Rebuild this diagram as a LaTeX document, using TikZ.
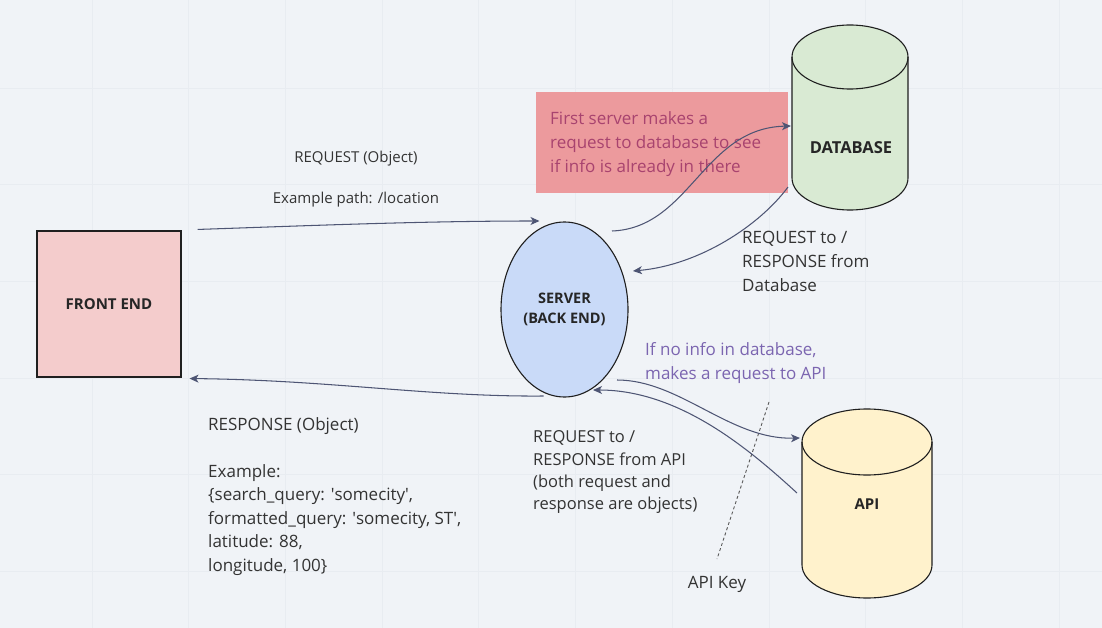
\documentclass[tikz,border=0pt]{standalone}
\usepackage{fontspec}
\setmainfont{Open Sans}
\usetikzlibrary{arrows.meta,calc,shapes.geometric}
\definecolor{bg}{HTML}{F0F3F7}
\definecolor{gridc}{HTML}{E8ECF1}
\definecolor{fefill}{HTML}{F4CCCC}
\definecolor{srvfill}{HTML}{C9DAF8}
\definecolor{dbfill}{HTML}{D9EAD3}
\definecolor{apifill}{HTML}{FFF2CC}
\definecolor{notefill}{HTML}{EC9A9D}
\definecolor{notetext}{HTML}{A8436F}
\definecolor{purp}{HTML}{7B65B0}
\definecolor{arrc}{HTML}{4E5574}
\definecolor{txt}{HTML}{333333}
\definecolor{outl}{HTML}{1F1F1F}
\tikzset{
  conn/.style={draw=arrc, line width=1.05pt, -{Stealth[length=9pt,width=8pt,inset=2.5pt]}},
  lbl/.style={text=txt, inner sep=0pt, align=left, font=\fontsize{17}{23.5}\selectfont},
  boldlbl/.style={text=black!85, font=\bfseries\fontsize{15}{20}\selectfont, align=center},
  shapeline/.style={draw=outl, line width=1.1pt},
  hidden/.style={inner sep=0pt, outer sep=0pt}
}
\begin{document}
\begin{tikzpicture}[x=1pt,y=-1pt]
\useasboundingbox (0,0) rectangle (1102,628);
\fill[bg] (0,0) rectangle (1102,628);
\foreach \i in {0,...,10} \draw[gridc, line width=0.8pt] ({92+96.7*\i},0) -- ++(0,628);
\foreach \i in {0,...,5} \draw[gridc, line width=0.8pt] (0,{88+96.7*\i}) -- ++(1102,0);

% note
\node[hidden, fill=notefill, minimum width=252pt, minimum height=101pt] (note) at (662,142.5) {};
\node[inner sep=0pt, anchor=north west, align=left, text=notetext, font=\fontsize{17}{24}\selectfont] (notetxt) at (550,111)
  {First server makes a\\request to database to see\\if info is already in there};

% front end
\node[shapeline, fill=fefill, minimum width=144pt, minimum height=146pt, boldlbl] (fe) at (109,304) {FRONT END};

% server
\node[ellipse, shapeline, fill=srvfill, minimum width=127pt, minimum height=175pt, inner sep=0pt, boldlbl, font=\bfseries\fontsize{14.5}{20}\selectfont] (srv) at (564.5,309.5) {SERVER\\(BACK END)};

% database cylinder
\filldraw[shapeline, fill=dbfill] (792,57) -- (792,178) arc[start angle=180,end angle=360,x radius=58pt,y radius=32pt] -- (908,57) arc[start angle=0,end angle=180,x radius=58pt,y radius=32pt] -- cycle;
\draw[shapeline] (792,57) arc[start angle=180,end angle=360,x radius=58pt,y radius=32pt];
\node[hidden, minimum width=116pt, minimum height=185pt] (db) at (850,117.5) {};
\node[boldlbl, font=\bfseries\fontsize{16.5}{20}\selectfont] (dbtxt) at (851,148) {DATABASE};

% api cylinder
\filldraw[shapeline, fill=apifill] (802,442) -- (802,565) arc[start angle=180,end angle=360,x radius=65pt,y radius=33pt] -- (932,442) arc[start angle=0,end angle=180,x radius=65pt,y radius=33pt] -- cycle;
\draw[shapeline] (802,442) arc[start angle=180,end angle=360,x radius=65pt,y radius=33pt];
\node[hidden, minimum width=130pt, minimum height=189pt] (api) at (867,503.5) {};
\node[boldlbl] (apitxt) at (867,504) {API};

% labels
\node[lbl, align=center, anchor=north, font=\fontsize{15}{20.5}\selectfont] (reqlbl) at (356,151) {REQUEST (Object)\\[20.5pt]Example path: /location};
\node[lbl, anchor=north west] (resplbl) at (208,417) {RESPONSE (Object)\\[23.5pt]Example:\\\{search\_query: \textquotesingle somecity\textquotesingle,\\formatted\_query: \textquotesingle somecity, ST\textquotesingle,\\latitude: 88,\\longitude, 100\}};
\node[lbl, anchor=north west, font=\fontsize{17}{24}\selectfont] (dblbl) at (742,231) {REQUEST to /\\RESPONSE from\\Database};
\node[lbl, anchor=north west, text=purp, font=\fontsize{17}{24}\selectfont] (purplbl) at (645,342) {If no info in database,\\makes a request to API};
\node[lbl, anchor=north west, font=\fontsize{16.5}{22.4}\selectfont] (apilbl) at (533,430.5) {REQUEST to /\\RESPONSE from API\\(both request and\\response are objects)};
\node[lbl, anchor=base] (keylbl) at (717,588) {API Key};

% API key divider
\coordinate (k1) at (769,402);
\coordinate (k2) at (717,559);
\draw[draw=black!65, line width=0.9pt, dash pattern=on 3pt off 2.5pt] (k1) -- (k2);

% connectors
\draw[conn] ($(fe.north east)+(16,-1)$) .. controls (300,226) and (420,221) .. ($(srv.center)+(-25,-88.5)$);
\draw[conn] ($(srv.center)+(-21,86.5)$) .. controls (430,397) and (330,380) .. ($(fe.south east)+(8,1)$);
\draw[conn] ($(srv.center)+(47.5,-78.5)$) .. controls (690,228) and (703,128) .. ($(db.center)+(-59,8.5)$);
\draw[conn] ($(db.center)+(-62,69.5)$) .. controls (760,225) and (700,265) .. ($(srv.center)+(68.5,-38.5)$);
\draw[conn] ($(srv.center)+(52.5,70.5)$) .. controls (680,380) and (730,440) .. ($(api.center)+(-67,-65.5)$);
\draw[conn] ($(api.center)+(-70,-10.5)$) .. controls (750,450) and (680,390) .. ($(srv.center)+(28.5,80.5)$);
\end{tikzpicture}
\end{document}
